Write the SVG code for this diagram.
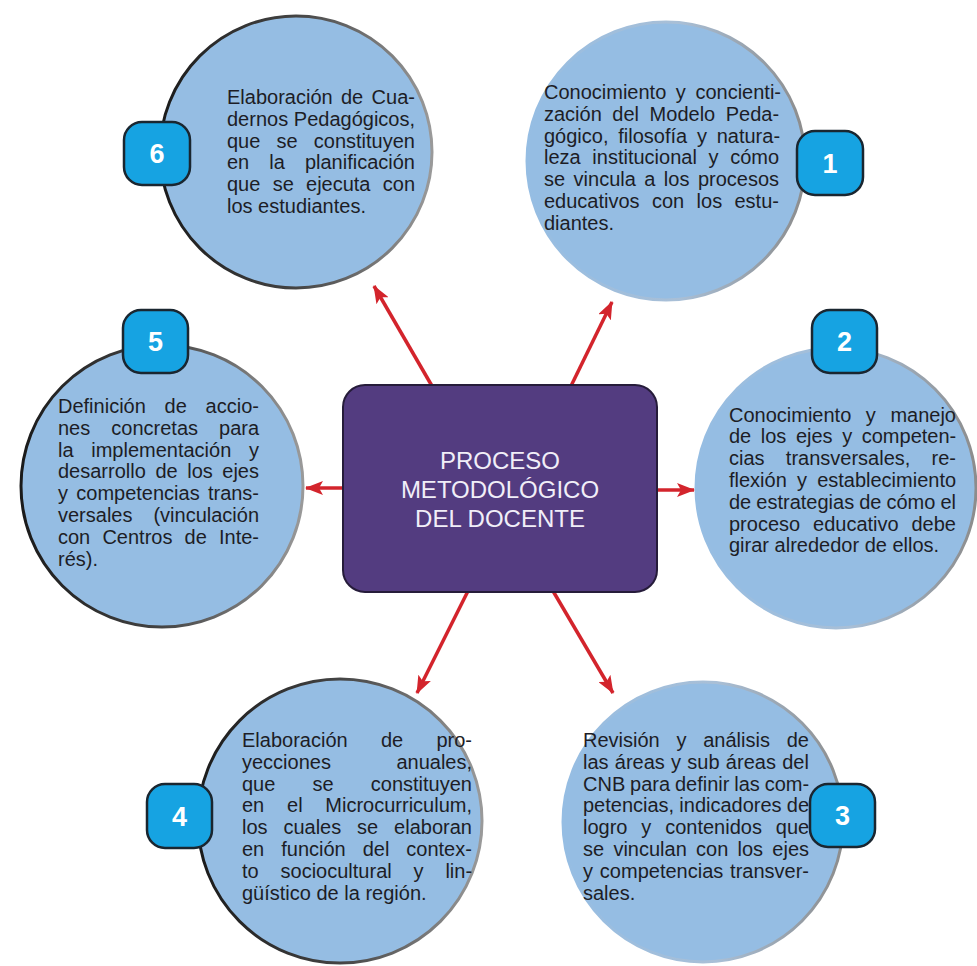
<svg xmlns="http://www.w3.org/2000/svg" width="977" height="966" viewBox="0 0 977 966">
<style>
.c{fill:#95bde3;stroke-width:3}
.t{font-family:"Liberation Sans",Arial,sans-serif;font-size:20px;fill:#1d1d26}
.b{fill:#16a3e2;stroke:#1a2630;stroke-width:2.5}
.n{font-family:"Liberation Sans",Arial,sans-serif;font-size:27px;font-weight:bold;fill:#ffffff;text-anchor:middle}
.a{stroke:#d3242c;stroke-width:3.5;fill:none;marker-end:url(#ah)}
.h{font-family:"Liberation Sans",Arial,sans-serif;font-size:24px;fill:#f1eef8;text-anchor:middle}
</style>
<defs>
<linearGradient id="gl" x1="0" y1="0" x2="1" y2="0">
<stop offset="0" stop-color="#1a1a1a"/><stop offset="0.5" stop-color="#444"/><stop offset="1" stop-color="#9a9a9a"/>
</linearGradient>
<linearGradient id="gr" x1="0" y1="0" x2="1" y2="0">
<stop offset="0" stop-color="#95bde3"/><stop offset="0.55" stop-color="#a9bfd6"/><stop offset="1" stop-color="#8c8c8c"/>
</linearGradient>
<marker id="ah" viewBox="0 0 18 14" refX="17" refY="7" markerWidth="18" markerHeight="14" markerUnits="userSpaceOnUse" orient="auto">
<path d="M0,0 L18,7 L0,14 L4,7 z" fill="#d3242c"/>
</marker>
</defs>
<rect width="977" height="966" fill="#ffffff"/>

<g id="node-6">
<circle class="c" cx="296" cy="152" r="136" stroke="url(#gl)"/>
<text class="t" x="227" y="104" style="word-spacing:2.8px">Elaboración de Cua-</text>
<text class="t" x="227" y="125.8" style="word-spacing:0.1px">dernos Pedagógicos,</text>
<text class="t" x="227" y="147.6" style="word-spacing:10.6px">que se constituyen</text>
<text class="t" x="227" y="169.4" style="word-spacing:14.5px">en la planificación</text>
<text class="t" x="227" y="191.2" style="word-spacing:6.7px">que se ejecuta con</text>
<text class="t" x="227" y="213">los estudiantes.</text>
</g>

<g id="node-1">
<circle class="c" cx="666" cy="161" r="139" stroke="url(#gr)"/>
<text class="t" x="544" y="99" style="word-spacing:4px">Conocimiento y concienti-</text>
<text class="t" x="544" y="120.8" style="word-spacing:5px">zación del Modelo Peda-</text>
<text class="t" x="544" y="142.6" style="word-spacing:4.2px">gógico, filosofía y natura-</text>
<text class="t" x="544" y="164.4" style="word-spacing:6.1px">leza institucional y cómo</text>
<text class="t" x="544" y="186.2" style="word-spacing:2.9px">se vincula a los procesos</text>
<text class="t" x="544" y="208" style="word-spacing:6.8px">educativos con los estu-</text>
<text class="t" x="544" y="229.8">diantes.</text>
</g>

<g id="node-5">
<circle class="c" cx="162" cy="486" r="141" stroke="url(#gl)"/>
<text class="t" x="58" y="413" style="word-spacing:13.2px">Definición de accio-</text>
<text class="t" x="58" y="434.8" style="word-spacing:15.5px">nes concretas para</text>
<text class="t" x="58" y="456.6" style="word-spacing:12.1px">la implementación y</text>
<text class="t" x="58" y="478.4" style="word-spacing:4px">desarrollo de los ejes</text>
<text class="t" x="58" y="500.2" style="word-spacing:2.7px">y competencias trans-</text>
<text class="t" x="58" y="522" style="word-spacing:15.4px">versales (vinculación</text>
<text class="t" x="58" y="543.8" style="word-spacing:6.6px">con Centros de Inte-</text>
<text class="t" x="58" y="565.6">rés).</text>
</g>

<g id="node-2">
<circle class="c" cx="836" cy="488" r="140" stroke="url(#gr)"/>
<text class="t" x="729" y="421.5" style="word-spacing:9px">Conocimiento y manejo</text>
<text class="t" x="729" y="443.3" style="word-spacing:4px">de los ejes y competen-</text>
<text class="t" x="729" y="465.1" style="word-spacing:15.7px">cias transversales, re-</text>
<text class="t" x="729" y="486.9" style="word-spacing:4.6px">flexión y establecimiento</text>
<text class="t" x="729" y="508.7" style="word-spacing:-0.5px">de estrategias de cómo el</text>
<text class="t" x="729" y="530.5" style="word-spacing:7.3px">proceso educativo debe</text>
<text class="t" x="729" y="552.3">girar alrededor de ellos.</text>
</g>

<g id="node-4">
<circle class="c" cx="340" cy="821" r="142" stroke="url(#gl)"/>
<text class="t" x="242" y="747" style="word-spacing:27.7px">Elaboración de pro-</text>
<text class="t" x="242" y="768.8" style="word-spacing:59.9px">yecciones anuales,</text>
<text class="t" x="242" y="790.6" style="word-spacing:31.6px">que se constituyen</text>
<text class="t" x="242" y="812.4" style="word-spacing:17.2px">en el Microcurriculum,</text>
<text class="t" x="242" y="834.2" style="word-spacing:10.3px">los cuales se elaboran</text>
<text class="t" x="242" y="856" style="word-spacing:11.4px">en función del contex-</text>
<text class="t" x="242" y="877.8" style="word-spacing:16.3px">to sociocultural y lin-</text>
<text class="t" x="242" y="899.6">güístico de la región.</text>
</g>

<g id="node-3">
<circle class="c" cx="703" cy="822" r="140" stroke="url(#gr)"/>
<text class="t" x="583" y="747" style="word-spacing:11.2px">Revisión y análisis de</text>
<text class="t" x="583" y="768.8" style="word-spacing:0.7px">las áreas y sub áreas del</text>
<text class="t" x="583" y="790.6" style="word-spacing:-0.7px">CNB para definir las com-</text>
<text class="t" x="583" y="812.4" style="word-spacing:-0.4px">petencias, indicadores de</text>
<text class="t" x="583" y="834.2" style="word-spacing:8.3px">logro y contenidos que</text>
<text class="t" x="583" y="856" style="word-spacing:3.7px">se vinculan con los ejes</text>
<text class="t" x="583" y="877.8" style="word-spacing:1.3px">y competencias transver-</text>
<text class="t" x="583" y="899.6">sales.</text>
</g>

<g id="connectors">
<line class="a" x1="432" y1="386" x2="374" y2="286"/>
<line class="a" x1="571" y1="386" x2="612" y2="302"/>
<line class="a" x1="344" y1="488" x2="306" y2="488"/>
<line class="a" x1="656" y1="490" x2="694" y2="490"/>
<line class="a" x1="468" y1="591" x2="417" y2="693"/>
<line class="a" x1="553" y1="591" x2="613" y2="693"/>
</g>

<g id="node-center">
<rect x="343" y="385" width="314" height="207" rx="22" fill="#533c80" stroke="#261c3a" stroke-width="2"/>
<text class="h" x="500" y="469">PROCESO</text>
<text class="h" x="500" y="498">METODOLÓGICO</text>
<text class="h" x="500" y="527">DEL DOCENTE</text>
</g>

<g id="badges">
<g id="badge-6"><rect class="b" x="124" y="122" width="66" height="63" rx="18"/><text class="n" x="157" y="163">6</text></g>
<g id="badge-1"><rect class="b" x="797" y="131" width="66" height="64" rx="18"/><text class="n" x="830" y="173">1</text></g>
<g id="badge-5"><rect class="b" x="123" y="310" width="65" height="63" rx="18"/><text class="n" x="155.5" y="351">5</text></g>
<g id="badge-2"><rect class="b" x="812" y="310" width="65" height="63" rx="18"/><text class="n" x="844.5" y="351">2</text></g>
<g id="badge-4"><rect class="b" x="147" y="784" width="65" height="64" rx="18"/><text class="n" x="179.5" y="826">4</text></g>
<g id="badge-3"><rect class="b" x="810" y="784" width="65" height="63" rx="18"/><text class="n" x="842.5" y="825">3</text></g>
</g>
</svg>
